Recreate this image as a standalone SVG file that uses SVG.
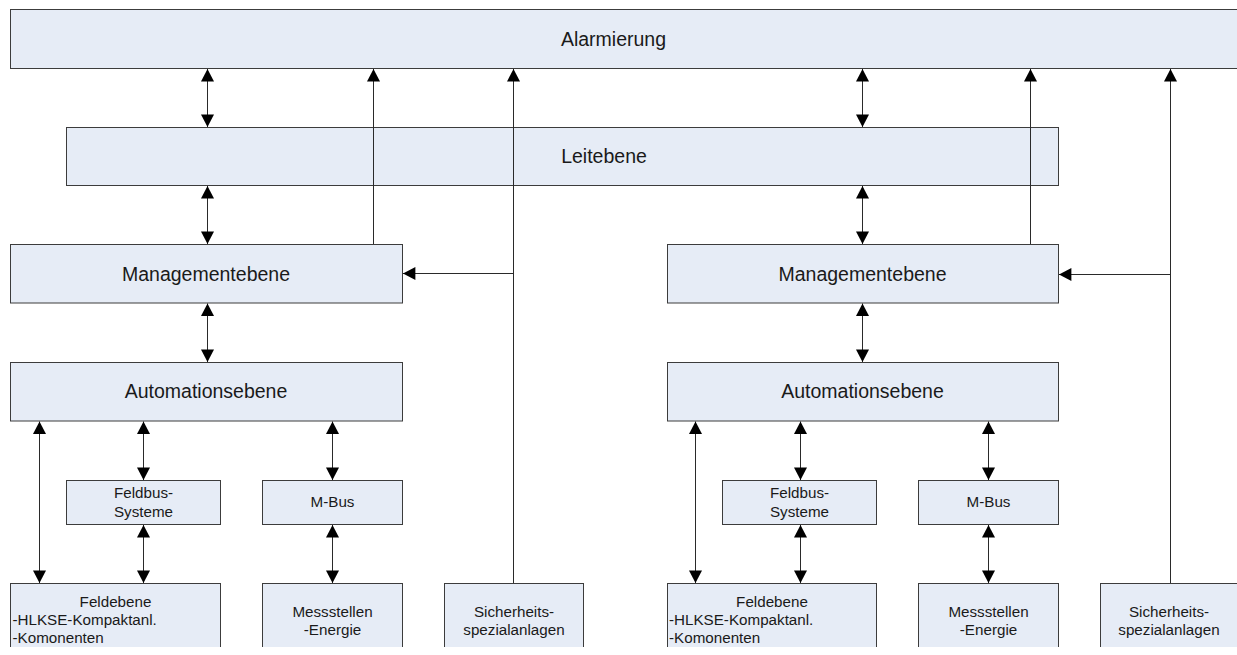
<svg xmlns="http://www.w3.org/2000/svg" width="1237" height="655" viewBox="0 0 1237 655">
<style>
.box{fill:#e6ecf6;stroke:#3c3c3c;stroke-width:1}
.big{font-family:"Liberation Sans",Arial,sans-serif;font-size:19.5px;fill:#1a1a1a;text-anchor:middle}
.sm{font-family:"Liberation Sans",Arial,sans-serif;font-size:15.2px;fill:#1a1a1a;text-anchor:middle}
.sml{font-family:"Liberation Sans",Arial,sans-serif;font-size:15.2px;fill:#1a1a1a;text-anchor:start}
.c{fill:none;stroke:#2a2a2a;stroke-width:1}
.a1{marker-end:url(#ah)}
.a2{marker-start:url(#ah);marker-end:url(#ah)}
</style>
<defs>
<marker id="ah" markerUnits="userSpaceOnUse" markerWidth="13" markerHeight="13" viewBox="0 0 12 12.6" refX="12" refY="6.3" orient="auto-start-reverse">
<path d="M0,0 L12,6.3 L0,12.6 z" fill="#000"/>
</marker>
<clipPath id="cut"><rect x="0" y="0" width="1237" height="647"/></clipPath>
</defs>
<rect width="1237" height="655" fill="#fff"/>

<g id="alarmierung"><rect class="box" x="10.5" y="9.5" width="1240" height="59"/><text class="big" x="613.5" y="45.5">Alarmierung</text></g>
<g id="leitebene"><rect class="box" x="66.5" y="127.5" width="992" height="58"/><text class="big" x="604" y="163">Leitebene</text></g>

<g id="management-l"><rect class="box" x="10.5" y="244.5" width="392" height="58.5"/><text class="big" x="206" y="281">Managementebene</text></g>
<g id="automation-l"><rect class="box" x="10.5" y="362.5" width="392" height="58.5"/><text class="big" x="206" y="398">Automationsebene</text></g>
<g id="feldbus-l"><rect class="box" x="66.5" y="480.5" width="154" height="44"/><text class="sm" x="143.5" y="497.5">Feldbus-</text><text class="sm" x="143.5" y="516.5">Systeme</text></g>
<g id="mbus-l"><rect class="box" x="262.5" y="480.5" width="140" height="44"/><text class="sm" x="332.5" y="506.5">M-Bus</text></g>
<g id="feldebene-l" clip-path="url(#cut)"><rect class="box" x="10.5" y="583.5" width="210" height="100"/><text class="sm" x="115.5" y="606.5">Feldebene</text><text class="sml" x="12.5" y="624.5">-HLKSE-Kompaktanl.</text><text class="sml" x="12.5" y="643">-Komonenten</text></g>
<g id="messstellen-l" clip-path="url(#cut)"><rect class="box" x="262.5" y="583.5" width="140" height="100"/><text class="sm" x="332.5" y="616.5">Messstellen</text><text class="sm" x="332.5" y="635">-Energie</text></g>
<g id="sicherheit-l" clip-path="url(#cut)"><rect class="box" x="444.5" y="583.5" width="139" height="100"/><text class="sm" x="514" y="616.5">Sicherheits-</text><text class="sm" x="514" y="635">spezialanlagen</text></g>

<g id="management-r"><rect class="box" x="667.5" y="244.5" width="391" height="58.5"/><text class="big" x="862.5" y="280.5">Managementebene</text></g>
<g id="automation-r"><rect class="box" x="667.5" y="362.5" width="391" height="58.5"/><text class="big" x="862.5" y="397.5">Automationsebene</text></g>
<g id="feldbus-r"><rect class="box" x="722.5" y="480.5" width="154" height="44"/><text class="sm" x="799.5" y="497.5">Feldbus-</text><text class="sm" x="799.5" y="516.5">Systeme</text></g>
<g id="mbus-r"><rect class="box" x="918.5" y="480.5" width="140" height="44"/><text class="sm" x="988.5" y="506.5">M-Bus</text></g>
<g id="feldebene-r" clip-path="url(#cut)"><rect class="box" x="667.5" y="583.5" width="209" height="100"/><text class="sm" x="772" y="606.5">Feldebene</text><text class="sml" x="669" y="624.5">-HLKSE-Kompaktanl.</text><text class="sml" x="669" y="643">-Komonenten</text></g>
<g id="messstellen-r" clip-path="url(#cut)"><rect class="box" x="918.5" y="583.5" width="140" height="100"/><text class="sm" x="988.5" y="616.5">Messstellen</text><text class="sm" x="988.5" y="635">-Energie</text></g>
<g id="sicherheit-r" clip-path="url(#cut)"><rect class="box" x="1100.5" y="583.5" width="140" height="100"/><text class="sm" x="1169" y="616.5">Sicherheits-</text><text class="sm" x="1169" y="635">spezialanlagen</text></g>

<g id="connectors">
<line class="c a2" x1="207.5" y1="69" x2="207.5" y2="127"/>
<line class="c a2" x1="207.5" y1="186" x2="207.5" y2="244"/>
<line class="c a2" x1="207.5" y1="303.5" x2="207.5" y2="362"/>
<line class="c a1" x1="373.5" y1="244" x2="373.5" y2="69"/>
<line class="c a1" x1="513.5" y1="583" x2="513.5" y2="69"/>
<line class="c a1" x1="513.5" y1="273.5" x2="403" y2="273.5"/>
<line class="c a2" x1="39.5" y1="421.5" x2="39.5" y2="583"/>
<line class="c a2" x1="143.5" y1="421.5" x2="143.5" y2="480"/>
<line class="c a2" x1="143.5" y1="525" x2="143.5" y2="583"/>
<line class="c a2" x1="332.5" y1="421.5" x2="332.5" y2="480"/>
<line class="c a2" x1="332.5" y1="525" x2="332.5" y2="583"/>

<line class="c a2" x1="862.5" y1="69" x2="862.5" y2="127"/>
<line class="c a2" x1="862.5" y1="186" x2="862.5" y2="244"/>
<line class="c a2" x1="862.5" y1="303.5" x2="862.5" y2="362"/>
<line class="c a1" x1="1030.5" y1="244" x2="1030.5" y2="69"/>
<line class="c a1" x1="1170.5" y1="583" x2="1170.5" y2="69"/>
<line class="c a1" x1="1170.5" y1="274.5" x2="1059" y2="274.5"/>
<line class="c a2" x1="695.5" y1="421.5" x2="695.5" y2="583"/>
<line class="c a2" x1="800.5" y1="421.5" x2="800.5" y2="480"/>
<line class="c a2" x1="800.5" y1="525" x2="800.5" y2="583"/>
<line class="c a2" x1="988.5" y1="421.5" x2="988.5" y2="480"/>
<line class="c a2" x1="988.5" y1="525" x2="988.5" y2="583"/>
</g>
</svg>
